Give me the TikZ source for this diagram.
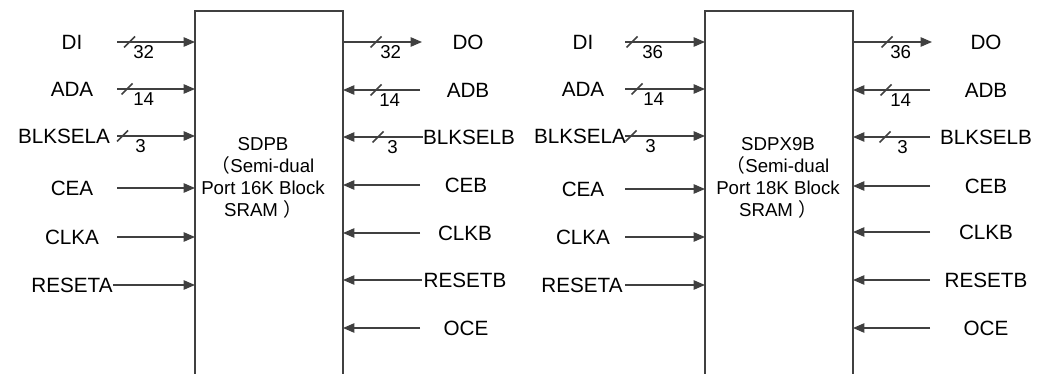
\documentclass[tikz,border=0pt]{standalone}
\usepackage{fontspec}
\setmainfont{Liberation Sans}
\newfontfamily\cjk{Noto Sans CJK SC}
\usetikzlibrary{arrows.meta}
\definecolor{linegray}{HTML}{404040}
\tikzset{
  sig/.style={draw=linegray, line width=1.1pt, -{Triangle[length=8.5pt,width=7pt]}},
  lbl/.style={font=\fontsize{15.5}{18}\selectfont, inner sep=0pt},
  busnum/.style={font=\fontsize{14}{16}\selectfont, inner sep=0pt, anchor=west},
  slashmark/.style={draw=linegray, line width=1.1pt},
  blk/.style={draw=linegray, line width=1.3pt},
  blktext/.style={font=\fontsize{14}{16.5}\selectfont, align=center, inner sep=0pt},
}
\begin{document}
\begin{tikzpicture}[x=0.75pt,y=-0.75pt]
\useasboundingbox (0,0) rectangle (1043,374);
% blocks
\coordinate (b1bl) at (195,376);
\coordinate (b1tl) at (195,11);
\coordinate (b1tr) at (343,11);
\coordinate (b1br) at (343,376);
\draw[blk] (b1bl) -- (b1tl) -- (b1tr) -- (b1br);
\coordinate (b2bl) at (705,376);
\coordinate (b2tl) at (705,11);
\coordinate (b2tr) at (853,11);
\coordinate (b2br) at (853,376);
\draw[blk] (b2bl) -- (b2tl) -- (b2tr) -- (b2br);
\node[blktext] (t1) at (263,178) {SDPB\\{\cjk （}Semi-dual\\Port 16K Block\\SRAM {\cjk ）}};
\node[blktext] (t2) at (778,178) {SDPX9B\\{\cjk （}Semi-dual\\Port 18K Block\\SRAM {\cjk ）}};
% block 1 inputs (left)
\foreach \t/\lx/\y/\sx [count=\i] in {DI/72/42/117, ADA/72/89/117, BLKSELA/64/136/117, CEA/72/188/117, CLKA/72/237/117, RESETA/72/285/113} {
  \node[lbl] (la\i) at (\lx,\y) {\t};
  \coordinate (sa\i) at (\sx,\y);
  \coordinate (ea\i) at (195,\y);
  \draw[sig] (sa\i) -- (ea\i);
}
% block 1 right side
\foreach \t/\lx/\y [count=\i] in {DO/468/42, ADB/468/90, BLKSELB/469/137, CEB/466/185, CLKB/465/233, RESETB/465/280, OCE/466/328} {
  \node[lbl] (lb\i) at (\lx,\y) {\t};
}
\coordinate (sb1) at (343,42);   \coordinate (eb1) at (422,42);
\draw[sig] (sb1) -- (eb1);
\foreach \y/\sx [count=\i from 2] in {90/420, 137/423, 185/420, 233/420, 280/422, 328/420} {
  \coordinate (sb\i) at (\sx,\y);
  \coordinate (eb\i) at (343,\y);
  \draw[sig] (sb\i) -- (eb\i);
}
% block 2 inputs (left)
\foreach \t/\lx/\y [count=\i] in {DI/583/42, ADA/583/89, BLKSELA/580/136, CEA/583/189, CLKA/583/237, RESETA/582/285} {
  \node[lbl] (lc\i) at (\lx,\y) {\t};
  \coordinate (sc\i) at (625,\y);
  \coordinate (ec\i) at (705,\y);
  \draw[sig] (sc\i) -- (ec\i);
}
% block 2 right side
\foreach \t/\y [count=\i] in {DO/42, ADB/90, BLKSELB/137, CEB/186, CLKB/232, RESETB/280, OCE/328} {
  \node[lbl] (ld\i) at (986,\y) {\t};
}
\coordinate (sd1) at (853,42);   \coordinate (ed1) at (932,42);
\draw[sig] (sd1) -- (ed1);
\foreach \y [count=\i from 2] in {90, 137, 186, 232, 280, 328} {
  \coordinate (sd\i) at (930,\y);
  \coordinate (ed\i) at (853,\y);
  \draw[sig] (sd\i) -- (ed\i);
}
% bus width marks
\foreach \cx/\y/\nx/\n in {129.5/42/133/32, 127/89/133/14, 122.5/136/135/3,
                           376/42/380/32, 376/90/379/14, 378/137/387/3,
                           632/42/642/36, 637/89/643/14, 631/136/645/3,
                           887/42/890/36, 886/90/890/14, 885/137/897/3} {
  \draw[slashmark] (\cx,\y) ++(-5.5,5.5) -- ++(11,-11);
  \node[busnum] at (\nx,\y+10.5) {\n};
}
\end{tikzpicture}
\end{document}
